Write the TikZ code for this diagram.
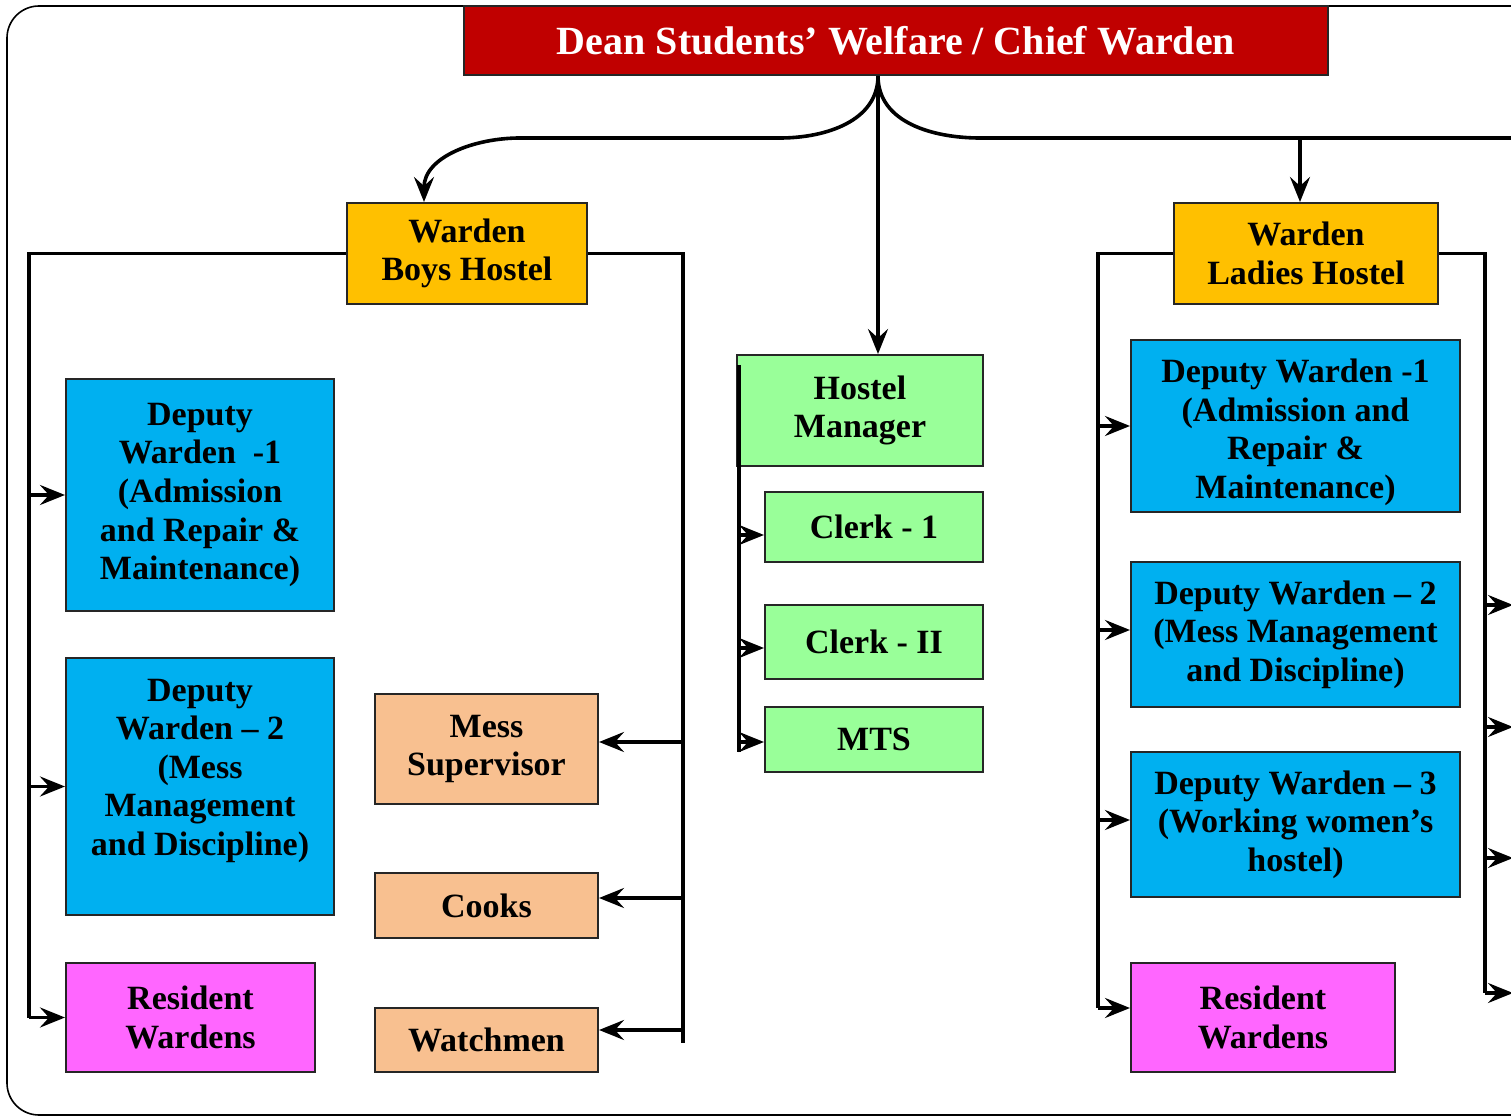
\documentclass[tikz,border=0pt]{standalone}
\usepackage{fontspec}
\setmainfont{Liberation Serif}
\usetikzlibrary{arrows.meta}
\definecolor{cred}{HTML}{C00000}
\definecolor{cyel}{HTML}{FFC000}
\definecolor{cblue}{HTML}{00B0F0}
\definecolor{cgreen}{HTML}{99FF99}
\definecolor{cpeach}{HTML}{F8C090}
\definecolor{cmag}{HTML}{FF66FF}
\tikzset{
  box/.style={draw=black!85, line width=1pt, align=center, inner sep=2pt,
    font=\fontsize{17}{19.3}\selectfont\bfseries, text=black},
  titlebox/.style={box, fill=cred, text=white, font=\fontsize{20}{22}\selectfont\bfseries},
  wbox/.style={box, fill=cyel},
  dbox/.style={box, fill=cblue},
  gbox/.style={box, fill=cgreen},
  pbox/.style={box, fill=cpeach},
  mbox/.style={box, fill=cmag},
  conn/.style={line width=1.8pt, line join=miter},
  arr/.style={conn, -{Stealth[length=12.5pt, width=10pt, inset=4.5pt]}},
}
\begin{document}
\begin{tikzpicture}[x=0.5pt, y=-0.5pt]
\useasboundingbox (0,0) rectangle (1511,1117);
% frame
\draw[line width=0.8pt, rounded corners=16pt] (1560,6) -- (7,6) -- (7,1115) -- (1560,1115);

% nodes
\node[titlebox, minimum width=432pt, minimum height=34.5pt] (title) at (896,40.5) {Dean Students’ Welfare / Chief Warden};
\node[wbox, minimum width=120pt, minimum height=50.5pt] (WB) at (467,253.5) {Warden\\Boys Hostel};
\node[wbox, minimum width=132pt, minimum height=50.5pt] (WL) at (1306,253.5) {Warden\\Ladies Hostel};
\node[gbox, minimum width=123pt, minimum height=55.5pt] (HM) at (860,410.5) {Hostel\\Manager};
\node[gbox, minimum width=109pt, minimum height=35pt] (C1) at (874,527) {Clerk - 1};
\node[gbox, minimum width=109pt, minimum height=37pt] (C2) at (874,642) {Clerk - II};
\node[gbox, minimum width=109pt, minimum height=32.5pt] (MTS) at (874,739.5) {MTS};
\node[dbox, minimum width=134pt, minimum height=116pt] (BD1) at (200,495) {Deputy\\Warden \ -1\\(Admission\\and Repair \&\\Maintenance)};
\node[dbox, minimum width=134pt, minimum height=128.5pt] (BD2) at (200,786.5) {Deputy\\Warden – 2\\(Mess\\Management\\and Discipline)\\[0pt]};
\node[mbox, minimum width=124.5pt, minimum height=54.5pt] (BR) at (190.5,1017.5) {Resident\\Wardens};
\node[pbox, minimum width=111.5pt, minimum height=55pt] (MS) at (486.5,749) {Mess\\Supervisor};
\node[pbox, minimum width=111.5pt, minimum height=32.5pt] (CK) at (486.5,905.5) {Cooks};
\node[pbox, minimum width=111.5pt, minimum height=32pt] (WM) at (486.5,1040) {Watchmen};
\node[dbox, minimum width=164.5pt, minimum height=86pt] (LD1) at (1295.5,426) {\rule{0pt}{18pt}Deputy Warden -1\\(Admission and\\Repair \&\\Maintenance)};
\node[dbox, minimum width=164.5pt, minimum height=72.5pt] (LD2) at (1295.5,634.5) {Deputy Warden – 2\\(Mess Management\\and Discipline)};
\node[dbox, minimum width=164.5pt, minimum height=72.5pt] (LD3) at (1295.5,824.5) {Deputy Warden – 3\\(Working women’s\\hostel)};
\node[mbox, minimum width=132pt, minimum height=54.5pt] (LR) at (1263,1017.5) {Resident\\Wardens};

% top connectors
\coordinate (hub) at (878,76);
\draw[arr] (hub) to[out=-90, in=0] (780,138) -- (520,138) to[out=180, in=90] (WB.north -| 424,0);
\draw[conn] (hub) to[out=-90, in=180] (980,138) -- (1530,138);
\coordinate (rb) at (1300,138);
\draw[arr] (rb) -- (rb |- WL.north);
\draw[arr] (hub) -- (HM.north -| hub);

% boys left bracket
\coordinate (bl) at (29,1017.5);
\draw[conn] (WB.west) -| (bl);
\foreach \n in {BD1,BD2,BR} \draw[arr] (\n.west -| bl) -- (\n.west);
% boys right bracket
\coordinate (br) at (683,1043);
\draw[conn] (WB.east) -| (br);
\draw[arr] ([yshift=3.5pt]MS.east -| br) -- ([yshift=3.5pt]MS.east);
\draw[arr] ([yshift=3.75pt]CK.east -| br) -- ([yshift=3.75pt]CK.east);
\draw[arr] ([yshift=5pt]WM.east -| br) -- ([yshift=5pt]WM.east);

% hostel manager bracket
\coordinate (ht) at (739,365);
\coordinate (hb) at (739,752);
\draw[conn] (ht) -- (hb);
\draw[arr] ([yshift=-4pt]C1.west -| ht) -- ([yshift=-4pt]C1.west);
\draw[arr] ([yshift=-3pt]C2.west -| ht) -- ([yshift=-3pt]C2.west);
\draw[arr] ([yshift=-1.25pt]MTS.west -| ht) -- ([yshift=-1.25pt]MTS.west);

% ladies left bracket
\coordinate (ll) at (1098,1008);
\draw[conn] (WL.west) -| (ll);
\draw[arr] (LD1.west -| ll) -- (LD1.west);
\draw[arr] ([yshift=2.25pt]LD2.west -| ll) -- ([yshift=2.25pt]LD2.west);
\draw[arr] ([yshift=2.25pt]LD3.west -| ll) -- ([yshift=2.25pt]LD3.west);
\draw[arr] (ll) -- (LR.west |- ll);

% ladies right bracket
\coordinate (lr) at (1485,993);
\draw[conn] (WL.east) -| (lr);
\foreach \y in {605,727,858,993} {
  \coordinate (e\y) at (1513,\y);
  \draw[arr] (lr |- e\y) -- (e\y);
}
\end{tikzpicture}
\end{document}
